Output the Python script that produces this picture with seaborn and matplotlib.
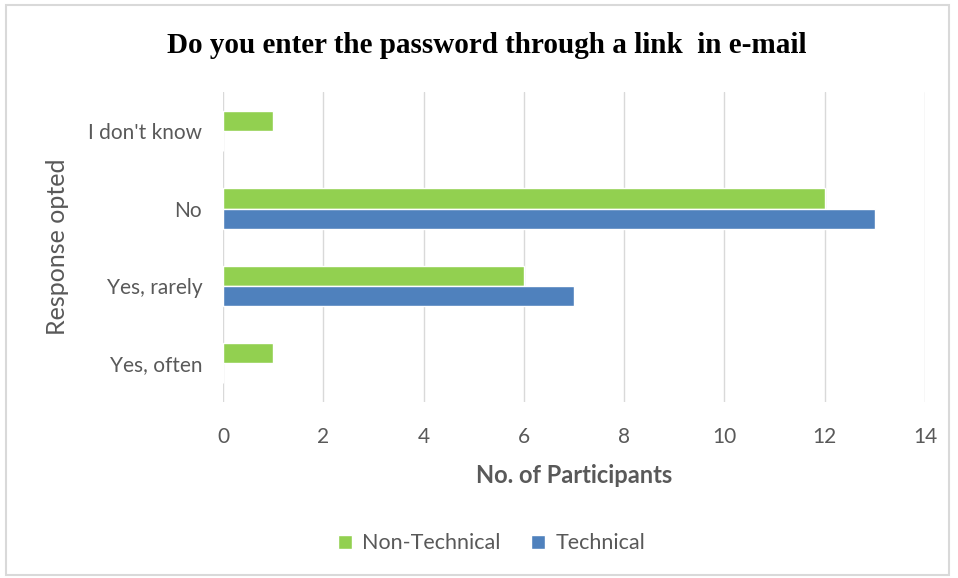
import matplotlib
matplotlib.use("Agg")
import matplotlib.pyplot as plt
import pandas as pd
import seaborn as sns
from matplotlib.patches import Rectangle

categories = ["I don't know", "No", "Yes, rarely", "Yes, often"]
groups = ["Non-Technical", "Technical"]
non_technical = [1, 12, 6, 1]
technical = [0, 13, 7, 0]

df = pd.DataFrame({
    "response": categories * 2,
    "group": [groups[0]] * 4 + [groups[1]] * 4,
    "count": non_technical + technical,
})

sns.set_theme(style="white")
plt.rcParams["font.family"] = ["Lato", "DejaVu Sans"]

grey = "#595959"
fig = plt.figure(figsize=(9.58, 5.78), dpi=100)
ax = fig.add_axes([0.2328, 0.3045, 0.7328, 0.5355])

sns.barplot(data=df, y="response", x="count", hue="group",
            order=categories, hue_order=groups,
            palette=["#92D050", "#4F81BD"], width=0.52,
            orient="h", ax=ax, legend=True, saturation=1)

ax.set_xlim(0, 14)
ax.set_ylim(3.5, -0.5)
ax.set_xticks(range(0, 15, 2))
ax.xaxis.grid(True, color="#D9D9D9", linewidth=1)
ax.set_axisbelow(True)
for s in ax.spines.values():
    s.set_visible(False)
ax.tick_params(axis="both", length=0, labelsize=15, labelcolor=grey)
ax.tick_params(axis="x", pad=18)
ax.tick_params(axis="y", pad=15)

ax.set_xlabel("No. of Participants", fontsize=17, fontweight="bold",
              color=grey, labelpad=12)
ax.set_ylabel("Response opted", fontsize=18, color=grey, labelpad=14)

fig.suptitle("Do you enter the password through a link  in e-mail",
             x=0.508, y=0.945, fontsize=21, fontweight="bold",
             family="Liberation Serif", color="black")

ax.legend_.remove()
handles, labels = ax.get_legend_handles_labels()
fig.legend(handles, labels, loc="center", bbox_to_anchor=(0.513, 0.06),
           ncol=2, frameon=False, fontsize=15.5, labelcolor=grey,
           handlelength=0.65, handleheight=0.65, columnspacing=1.4,
           handletextpad=0.5)

fig.patches.append(Rectangle((0.006, 0.006), 0.985, 0.985,
                             transform=fig.transFigure, fill=False,
                             edgecolor="#D9D9D9", linewidth=1.5))

fig.savefig("out.png", dpi=100)
